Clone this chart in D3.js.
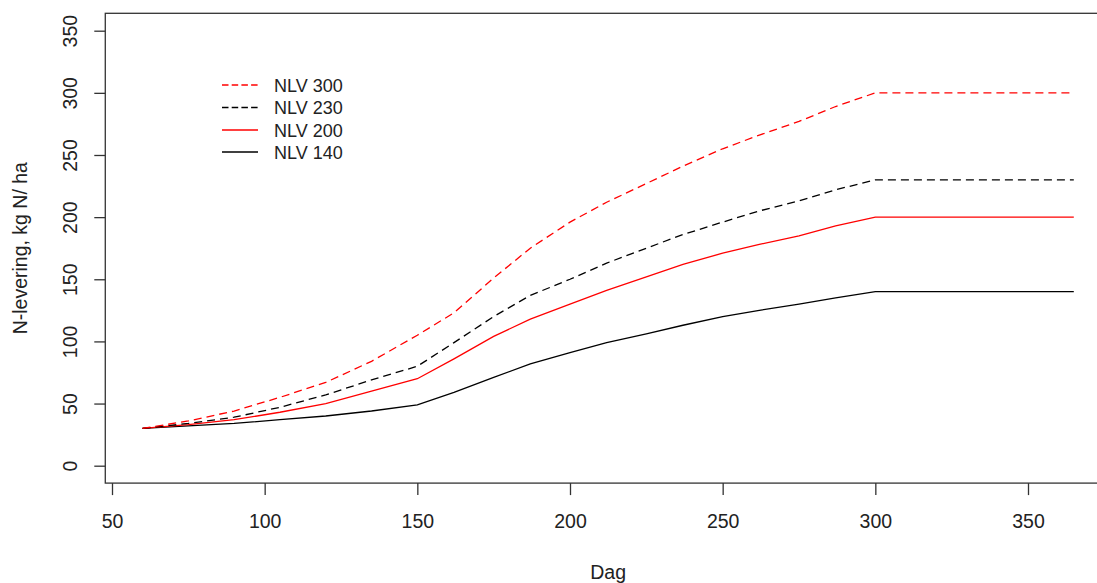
<!DOCTYPE html>
<html>
<head>
<meta charset="utf-8">
<script src="https://cdn.jsdelivr.net/npm/d3@7"></script>
<style>
  body { margin: 0; background: #fff; }
  svg { display: block; }
  text { font-family: "Liberation Sans", Arial, sans-serif; fill: #222; }
</style>
</head>
<body>
<svg id="chart" width="1097" height="583"></svg>
<script>
// days and N delivery (kg N/ha)
var days = [60, 75, 90, 105, 120, 135, 150, 162, 175, 187, 200, 212, 225, 237, 250, 262, 275, 287, 300, 365];
var nlv300 = [30, 36, 44, 55, 67, 84, 105, 123, 151, 175, 196, 212, 227, 241, 255, 266, 277, 289, 300, 300];
var nlv230 = [30, 34, 39, 47, 57, 69, 80, 99, 120, 137, 150, 163, 175, 186, 196, 205, 213, 222, 230, 230];
var nlv200 = [30, 33, 37, 43, 50, 60, 70, 86, 104, 118, 130, 141, 152, 162, 171, 178, 185, 193, 200, 200];
var nlv140 = [30, 32, 34, 37, 40, 44, 49, 59, 71, 82, 91, 99, 106, 113, 120, 125, 130, 135, 140, 140];

var series_names = ["NLV 300", "NLV 230", "NLV 200", "NLV 140"];
var series_values = [nlv300, nlv230, nlv200, nlv140];
var series_colors = ["#ff0000", "#000000", "#ff0000", "#000000"];
var series_dashed = [true, true, false, false];

var x_ticks = [50, 100, 150, 200, 250, 300, 350];
var y_ticks = [0, 50, 100, 150, 200, 250, 300, 350];

function draw_chart()
{
    var svg = d3.select("#chart");

    var x = d3.scaleLinear().domain([50, 350]).range([112, 1028]);
    var y = d3.scaleLinear().domain([0, 350]).range([465.7, 30.7]);

    // R style 4% padding around the data range
    var box_left = x(60 - 0.04 * 305), box_right = x(365 + 0.04 * 305);
    var box_top = y(364), box_bottom = y(-14);

    var line = d3.line()
        .x(function(d) { return x(d[0]); })
        .y(function(d) { return y(d[1]); });

    for (var i = series_values.length - 1; i >= 0; i--)
    {
        var values = series_values[i];
        var pts = days.map(function(d, j) { return [d, values[j]]; });
        svg.append("path")
            .attr("d", line(pts))
            .attr("fill", "none")
            .attr("stroke", series_colors[i])
            .attr("stroke-width", 1.3)
            .attr("stroke-dasharray", series_dashed[i] ? "8,5" : null);
    }

    // box
    svg.append("rect")
        .attr("x", box_left).attr("y", box_top)
        .attr("width", box_right - box_left).attr("height", box_bottom - box_top)
        .attr("fill", "none").attr("stroke", "#333").attr("stroke-width", 1.3);

    // x axis
    var x_axis = svg.append("g")
        .attr("transform", "translate(0," + box_bottom + ")")
        .call(d3.axisBottom(x).tickValues(x_ticks).tickSize(12).tickSizeOuter(0));
    x_axis.select(".domain").remove();
    x_axis.selectAll("line").attr("stroke", "#333").attr("stroke-width", 1.3);
    x_axis.selectAll("text")
        .attr("y", 45).attr("dy", null)
        .attr("font-size", "19.5px")
        .attr("font-family", null)
        .attr("fill", "#222");

    // y axis
    var y_axis = svg.append("g")
        .attr("transform", "translate(" + box_left + ",0)")
        .call(d3.axisLeft(y).tickValues(y_ticks).tickSize(11).tickSizeOuter(0));
    y_axis.select(".domain").remove();
    y_axis.selectAll("line").attr("stroke", "#333").attr("stroke-width", 1.3);
    y_axis.selectAll("text")
        .attr("x", null).attr("dy", null)
        .attr("transform", "translate(-28,0) rotate(-90)")
        .attr("text-anchor", "middle")
        .attr("font-size", "19.5px")
        .attr("font-family", null)
        .attr("fill", "#222");

    // axis titles
    svg.append("text")
        .attr("x", (box_left + box_right) / 2).attr("y", 579)
        .attr("text-anchor", "middle")
        .attr("font-size", "19.5px")
        .text("Dag");

    svg.append("text")
        .attr("transform", "translate(27," + ((box_top + box_bottom) / 2) + ") rotate(-90)")
        .attr("text-anchor", "middle")
        .attr("font-size", "19.5px")
        .text("N-levering, kg N/ ha");

    // legend
    var legend_rows = [85, 107.5, 130, 152];
    var legend = svg.append("g");
    for (var i = 0; i < series_names.length; i++)
    {
        legend.append("line")
            .attr("x1", 222).attr("x2", 258)
            .attr("y1", legend_rows[i]).attr("y2", legend_rows[i])
            .attr("stroke", series_colors[i])
            .attr("stroke-width", 1.3)
            .attr("stroke-dasharray", series_dashed[i] ? "6.5,3.2" : null);
        legend.append("text")
            .attr("x", 274).attr("y", legend_rows[i] + 6.5)
            .attr("font-size", "18px")
            .text(series_names[i]);
    }
}

draw_chart();
</script>
</body>
</html>
